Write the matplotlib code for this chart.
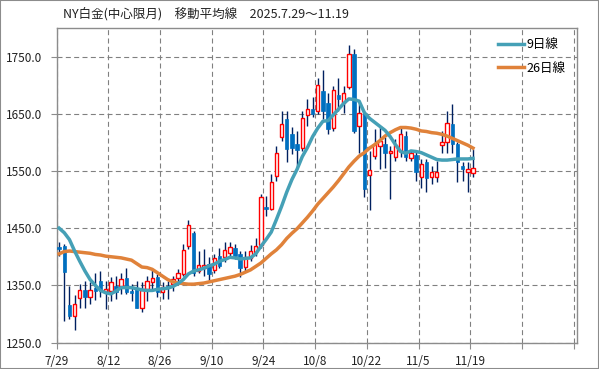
import matplotlib
matplotlib.use('Agg')
import matplotlib.pyplot as plt
from matplotlib.patches import Rectangle

plt.rcParams['font.family'] = ['Noto Sans CJK JP', 'DejaVu Sans']
plt.rcParams['lines.scale_dashes'] = False

TITLE = 'NY白金(中心限月)　移動平均線　2025.7.29～11.19'
TICK_LABELS = ['7/29', '8/12', '8/26', '9/10', '9/24', '10/8', '10/22', '11/5', '11/19', '', '']
Y_TICKS = [1250, 1350, 1450, 1550, 1650, 1750]

# daily OHLC, 7/29 .. 11/19
opens = [1417, 1419, 1316, 1297, 1328, 1342, 1329, 1345, 1358, 1339,
         1340, 1349, 1349, 1363, 1340, 1345, 1311, 1343, 1355, 1365,
         1338, 1349, 1352, 1363, 1370, 1419, 1442, 1375, 1381, 1387,
         1377, 1402, 1399, 1406, 1416, 1405, 1382, 1398, 1408, 1420,
         1487, 1484, 1541, 1610, 1641, 1615, 1597, 1590, 1647, 1658,
         1655, 1690, 1668, 1625, 1683, 1668, 1697, 1754, 1629, 1652,
         1543, 1577, 1594, 1597, 1581, 1574, 1585, 1612, 1573, 1578,
         1539, 1565, 1539, 1539, 1595, 1601, 1632, 1597, 1558, 1549,
         1546]
highs = [1425, 1423, 1349, 1333, 1352, 1358, 1355, 1372, 1375, 1358,
         1364, 1367, 1372, 1381, 1352, 1358, 1355, 1367, 1378, 1370,
         1355, 1358, 1367, 1378, 1422, 1464, 1445, 1410, 1413, 1399,
         1405, 1416, 1425, 1425, 1423, 1410, 1410, 1420, 1432, 1510,
         1507, 1545, 1594, 1654, 1655, 1626, 1620, 1655, 1676, 1679,
         1712, 1726, 1687, 1699, 1713, 1699, 1770, 1763, 1670, 1655,
         1585, 1623, 1629, 1609, 1594, 1606, 1629, 1620, 1585, 1585,
         1571, 1571, 1559, 1568, 1620, 1655, 1667, 1600, 1565, 1565,
         1588]
lows = [1402, 1288, 1291, 1272, 1310, 1311, 1317, 1325, 1329, 1308,
        1323, 1326, 1335, 1335, 1323, 1311, 1303, 1323, 1340, 1329,
        1326, 1326, 1340, 1355, 1367, 1413, 1367, 1372, 1367, 1358,
        1372, 1381, 1390, 1399, 1396, 1365, 1375, 1392, 1402, 1415,
        1472, 1481, 1533, 1603, 1565, 1580, 1556, 1585, 1629, 1644,
        1649, 1641, 1615, 1620, 1655, 1652, 1693, 1617, 1581, 1505,
        1482, 1571, 1553, 1556, 1501, 1568, 1574, 1568, 1568, 1533,
        1521, 1513, 1527, 1530, 1582, 1582, 1582, 1530, 1533, 1513,
        1539]
closes = [1413, 1374, 1297, 1317, 1341, 1329, 1341, 1340, 1340, 1343,
          1355, 1338, 1361, 1338, 1337, 1311, 1342, 1358, 1363, 1338,
          1347, 1345, 1361, 1371, 1411, 1456, 1372, 1386, 1386, 1370,
          1398, 1384, 1411, 1417, 1402, 1380, 1400, 1410, 1418, 1505,
          1483, 1531, 1581, 1632, 1588, 1590, 1587, 1642, 1659, 1649,
          1700, 1655, 1623, 1691, 1676, 1687, 1754, 1620, 1652, 1519,
          1552, 1597, 1603, 1582, 1585, 1596, 1614, 1574, 1581, 1549,
          1562, 1538, 1549, 1549, 1600, 1634, 1597, 1565, 1554, 1554,
          1556]

# moving averages as drawn
ma9 = [1450, 1442, 1430, 1410, 1392, 1375, 1360, 1350, 1341, 1337,
       1335, 1340, 1346, 1346, 1346, 1344, 1342, 1341, 1341, 1343,
       1344, 1345, 1348, 1353, 1360, 1370, 1375, 1377, 1380, 1384,
       1387, 1392, 1395, 1399, 1398, 1396, 1397, 1398, 1405, 1418,
       1430, 1443, 1465, 1488, 1513, 1535, 1553, 1575, 1591, 1610,
       1625, 1637, 1638, 1648, 1658, 1668, 1676, 1675, 1672, 1652,
       1642, 1635, 1628, 1621, 1610, 1596, 1584, 1581, 1585, 1584,
       1582, 1578, 1574, 1570, 1569, 1569, 1570, 1571, 1571, 1571,
       1572]
ma26 = [1405, 1409, 1410, 1409, 1408, 1407, 1406, 1404, 1403, 1401,
        1400, 1399, 1398, 1396, 1394, 1388, 1382, 1381, 1378, 1372,
        1366, 1360, 1356, 1354, 1353, 1352, 1352, 1353, 1354, 1356,
        1358, 1360, 1362, 1364, 1366, 1369, 1373, 1377, 1383, 1389,
        1397, 1405, 1412, 1421, 1432, 1441, 1449, 1459, 1469, 1480,
        1492, 1502, 1512, 1522, 1533, 1545, 1557, 1567, 1576, 1582,
        1590, 1596, 1603, 1611, 1617, 1622, 1626, 1626, 1625, 1623,
        1620, 1619, 1617, 1616, 1614, 1611, 1607, 1603, 1599, 1595,
        1590]

GRID = '#808080'
SPINE = '#8c8c8c'

fig = plt.figure(figsize=(5.99, 3.69), dpi=100)
ax = fig.add_axes([56.5 / 599, 1 - 342.5 / 369, 520.5 / 599, 314.5 / 369])

xs = [i + 0.5 for i in range(len(closes))]
for x, o, h, l, c in zip(xs, opens, highs, lows, closes):
    ax.vlines(x, l, h, color='#002060', lw=1, zorder=2)
    if c >= o:
        ax.add_patch(Rectangle((x - 0.33, o), 0.66, max(c - o, 2),
                               facecolor='white', edgecolor='#ff0000', lw=1, zorder=3))
    else:
        ax.add_patch(Rectangle((x - 0.33, c), 0.66, max(o - c, 2),
                               facecolor='#0070c0', edgecolor='#0070c0', lw=0.5, zorder=3))

ax.plot(xs, ma26, color='#e0823a', lw=2.5, zorder=4, label='26日線')
ax.plot(xs, ma9, color='#45a0b6', lw=2.5, zorder=5, label='9日線')

ax.set_xlim(0, 100.6)
ax.set_ylim(1250, 1800)
ax.set_xticks(range(0, 101, 10))
ax.set_xticklabels(TICK_LABELS)
ax.set_yticks(Y_TICKS)
ax.set_yticklabels([f'{v:.1f}' for v in Y_TICKS])
ax.tick_params(axis='both', direction='out', length=4, color=SPINE, labelsize=8.5, labelcolor='#222222')
ax.tick_params(axis='x', pad=5)
ax.tick_params(axis='y', pad=6)
ax.grid(True, color=GRID, lw=0.8, linestyle=(0, (3.6, 2.4)), zorder=1)
ax.set_axisbelow(True)
for s in ax.spines.values():
    s.set_color(SPINE)
    s.set_linewidth(1)

handles, labels = ax.get_legend_handles_labels()
ax.legend(handles[::-1], labels[::-1], loc='upper left', bbox_to_anchor=(0.848, 0.968),
          frameon=False, fontsize=9, handlelength=2.1, handletextpad=0.15,
          labelspacing=0.85, borderpad=0, borderaxespad=0)

fig.text(63 / 599, 1 - 14 / 369, TITLE, fontsize=9, va='center', ha='left', color='#222222')
fig.patches.append(Rectangle((0, 0), 1, 1, transform=fig.transFigure, fill=False,
                             edgecolor='#8c8c8c', lw=1.5))

fig.savefig('out.png', dpi=100)
